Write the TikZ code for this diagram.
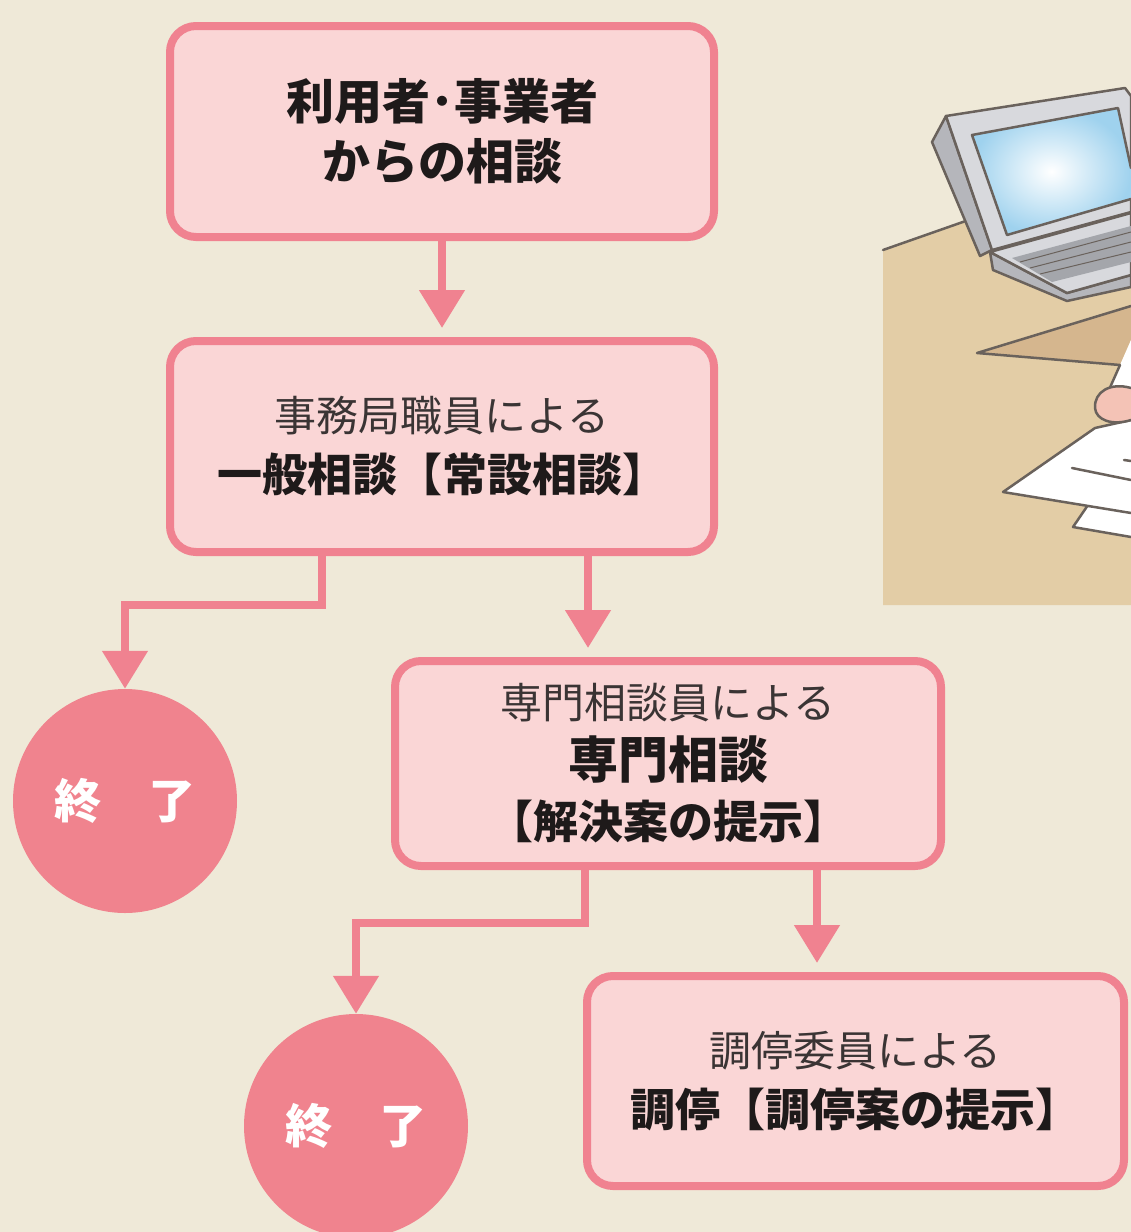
\documentclass[tikz,border=0pt]{standalone}
\usepackage{fontspec}
\setmainfont{Noto Sans CJK JP}
\usetikzlibrary{arrows.meta,calc}

\definecolor{bg}{HTML}{EFE9D8}
\definecolor{boxfill}{HTML}{FAD6D6}
\definecolor{rim}{HTML}{F08290}
\definecolor{endfill}{HTML}{F0838E}
\definecolor{ink}{HTML}{1E1A1A}
\definecolor{softink}{HTML}{3A3434}
\definecolor{desk}{HTML}{E3CDA6}
\definecolor{deskdark}{HTML}{D5B68E}
\definecolor{outline}{HTML}{6A625C}
\definecolor{lidgray}{HTML}{D8D9DD}
\definecolor{sidegray}{HTML}{B5B6BB}
\definecolor{keygray}{HTML}{A4A6AB}
\definecolor{screenblue}{HTML}{9FD2EE}
\definecolor{skin}{HTML}{F4C3B6}

% one light line and one bold line inside a box
\newcommand{\lighttxt}[1]{{\fontsize{42}{60}\selectfont\color{softink}#1}}
\newcommand{\boldtxt}[2][45]{{\bfseries\fontsize{#1}{60}\selectfont #2}}

\begin{document}
\begin{tikzpicture}[x=1pt,y=-1pt,
  stage/.style={draw=rim, line width=8pt, fill=boxfill, rounded corners=26pt,
    align=center, inner sep=0pt, text=ink, font=\fontsize{45}{60}\selectfont},
  endpt/.style={circle, fill=endfill, minimum size=224pt, inner sep=0pt,
    text=white, font=\bfseries\fontsize{47}{54}\selectfont},
  link/.style={draw=rim, line width=8pt},
  flow/.style={link, -{Triangle[width=44pt,length=38pt]}},
  sketch/.style={draw=outline, line width=2.5pt, line join=round, line cap=round}
]
\clip (0,0) rectangle (1131,1232);
\fill[bg] (0,0) rectangle (1131,1232);

% ---- desk with laptop and papers ----
\fill[desk] (883,250) -- (1131,163) -- (1131,605) -- (883,605) -- cycle;
\draw[sketch] (883,250) -- (1131,163);
% darker board on the desk
\fill[deskdark] (977,353) -- (1131,306) -- (1131,340) -- (1120,365) -- cycle;
\draw[sketch] (1131,306) -- (977,353) -- (1120,365);
% sleeve
\fill[white] (1120,365) -- (1131,340) -- (1131,402) -- (1106,398) -- cycle;
\draw[sketch] (1120,365) -- (1108,392);
% lower sheet
\filldraw[sketch, fill=white] (1131,537) -- (1073,527) -- (1088,505) -- (1131,511);
% upper sheet
\filldraw[sketch, fill=white] (1131,513) -- (1003,492) -- (1095,428) -- (1131,420);
\draw[sketch] (1072,468) -- (1131,480);
\draw[sketch] (1124,460) -- (1131,461);
% hand
\filldraw[sketch, fill=skin] (1131,388) .. controls (1110,382) and (1094,392) .. (1095,408)
  .. controls (1096,420) and (1112,426) .. (1131,420);

% laptop base
\filldraw[sketch, fill=sidegray] (990,252) -- (993,270) -- (1067,301) -- (1131,287)
  -- (1131,275) -- (1067,293) -- cycle;
\filldraw[sketch, fill=lidgray] (990,252) -- (1131,213) -- (1131,275) -- (1067,293) -- cycle;
\fill[keygray] (1012,258) -- (1131,226) -- (1131,262) -- (1052,282) -- cycle;
\draw[outline, line width=1pt] (1020,262) -- (1131,232) (1030,268) -- (1131,242)
  (1040,274) -- (1131,252);
% laptop lid
\filldraw[sketch, fill=sidegray] (932,142) -- (946,116) -- (992,250) -- (980,256) -- cycle;
\filldraw[sketch, fill=lidgray] (946,116) -- (1125,88) -- (1131,96) -- (1131,212)
  -- (992,250) -- cycle;
\shade[inner color=white, outer color=screenblue]
  (972,135) -- (1118,108) -- (1131,168) -- (1131,199) -- (1007,235) -- cycle;
\draw[sketch] (1131,199) -- (1007,235) -- (972,135) -- (1118,108) -- (1131,168);

% ---- flow chart ----
\node[stage, minimum width=544pt, minimum height=211pt] (b1) at (442,131.5)
  {\boldtxt[48]{利用者･事業者}\\\boldtxt[48]{からの相談}};
\node[stage, minimum width=544pt, minimum height=211pt] (b2) at (442,446.5)
  {\lighttxt{事務局職員による}\\\boldtxt{一般相談【常設相談】}};
\node[stage, minimum width=546pt, minimum height=205pt] (b3) at (668,763.5)
  {\lighttxt{専門相談員による}\\\boldtxt[50]{専門相談}\\\boldtxt{【解決案の提示】}};
\node[stage, minimum width=537pt, minimum height=210pt] (b4) at (855.5,1081)
  {\lighttxt{調停委員による}\\\boldtxt{調停【調停案の提示】}};

\node[endpt] (c1) at (125,801) {終　了};
\node[endpt] (c2) at (356,1126) {終　了};

\coordinate (j1) at (322,605);
\coordinate (j2) at (585,923);
\coordinate (k1) at (588,600);
\coordinate (k2) at (817,920);

\draw[flow] (b1.south) -- ($(b2.north)+(0,-9)$);
\draw[flow] (b2.south -| j1) -- (j1) -| (c1.north);
\draw[flow] (b2.south -| k1) -- ($(b3.north -| k1)+(0,-9)$);
\draw[flow] (b3.south -| j2) -- (j2) -| (c2.north);
\draw[flow] (b3.south -| k2) -- ($(b4.north -| k2)+(0,-9)$);
\end{tikzpicture}
\end{document}
